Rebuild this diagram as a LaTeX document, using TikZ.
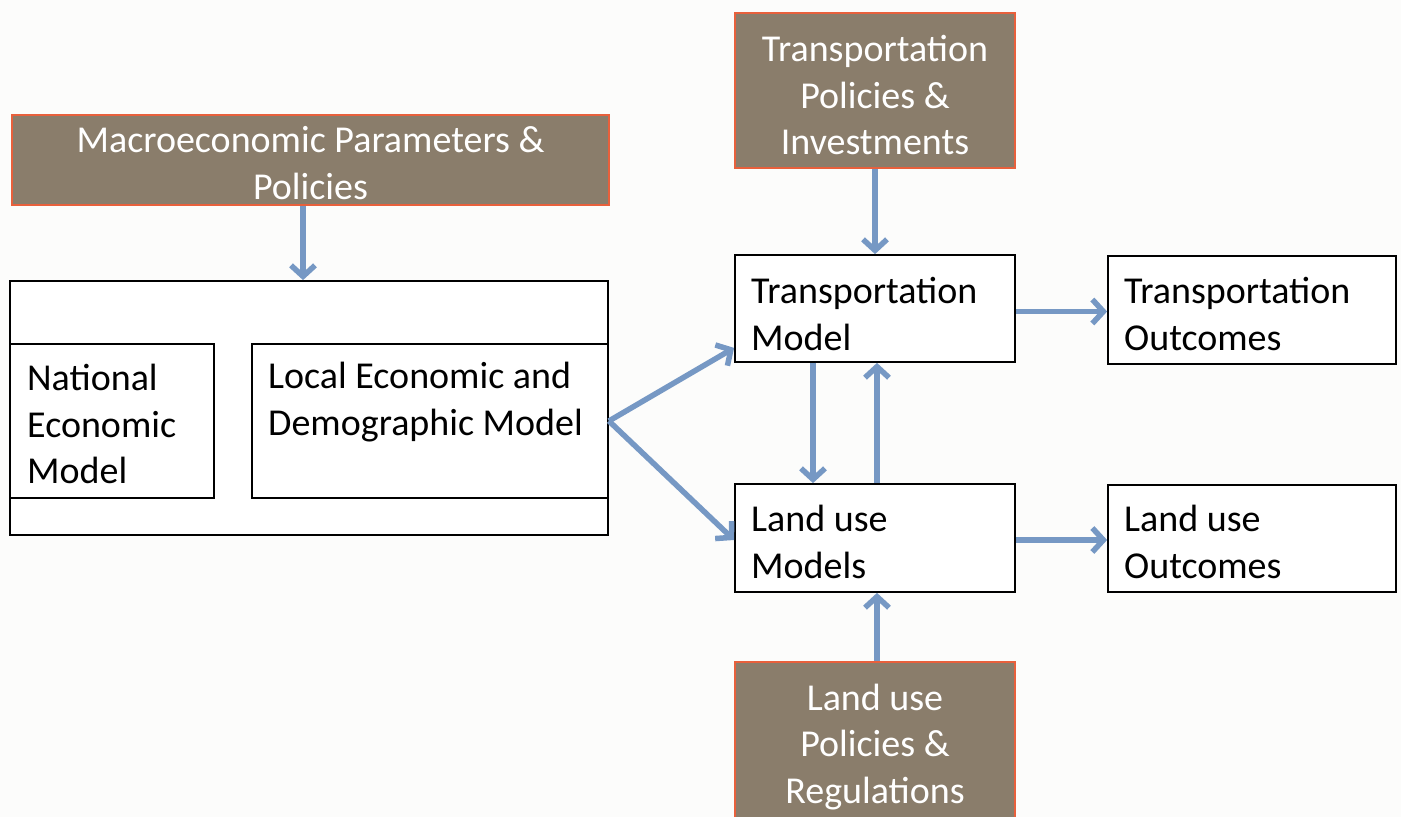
\documentclass[tikz,border=0pt]{standalone}
\usepackage{fontspec}
\setmainfont{Carlito}
\usetikzlibrary{arrows.meta}
\definecolor{brownfill}{RGB}{138,125,107}
\definecolor{redline}{RGB}{232,96,60}
\definecolor{arrowblue}{RGB}{118,152,196}
\definecolor{bgcol}{RGB}{252,252,251}
\begin{document}
\begin{tikzpicture}[x=1pt,y=-1pt,
 every node/.style={font=\fontsize{38}{46.5}\selectfont},
 policy/.style={draw=redline, line width=2.5pt, fill=brownfill, inner sep=0pt},
 ptext/.style={align=center, inner sep=0pt, text=white},
 model/.style={draw=black, line width=1.8pt, fill=white, inner sep=0pt},
 lbl/.style={align=left, inner sep=0pt, anchor=west, text=black},
 flow/.style={draw=arrowblue, line width=5.5pt, -{Straight Barb[length=11pt,width=24pt]}}
]
\fill[bgcol] (0,0) rectangle (1401,817);
\useasboundingbox (0,0) rectangle (1401,817);
\clip (0,0) rectangle (1401,817);

% policy boxes
\node[policy, minimum width=597pt, minimum height=90pt] (macro) at (310.5,160) {};
\node[policy, minimum width=280pt, minimum height=155pt] (tp) at (875,90.5) {};
\node[policy, minimum width=280pt, minimum height=170pt] (lp) at (875,747) {};
\node[ptext] (tmacro) at (310.5,163) {Macroeconomic Parameters \&\\Policies};
\node[ptext] (ttp) at (875,95) {Transportation\\Policies \&\\Investments};
\node[ptext] (tlp) at (875,747) {Land use\\Policies \&\\Regulations};

% model boxes
\node[model, minimum width=598pt, minimum height=254pt] (outer) at (309,408) {};
\node[model, minimum width=204pt, minimum height=154pt] (national) at (112,421) {};
\node[model, minimum width=356pt, minimum height=154pt] (local) at (430,421) {};
\node[model, minimum width=280pt, minimum height=107pt] (tm) at (875,308.5) {};
\node[model, minimum width=280pt, minimum height=108pt] (lm) at (875,538) {};
\node[model, minimum width=288pt, minimum height=108pt] (to) at (1252,310) {};
\node[model, minimum width=288pt, minimum height=107pt] (lo) at (1252,538.5) {};

% labels
\node[lbl] (tnational) at (27,424) {National\\Economic\\Model};
\node[lbl] (tlocal) at (268,402) {Local Economic and\\Demographic Model};
\node[lbl] (ttm) at (751,314) {Transportation\\Model};
\node[lbl] (tlm) at (751,542) {Land use\\Models};
\node[lbl] (tto) at (1124,314) {Transportation\\Outcomes};
\node[lbl] (tlo) at (1124,542) {Land use\\Outcomes};

% connectors
\coordinate (split) at (local.east);
\draw[flow] ([xshift=-7.5pt]macro.south) -- ([xshift=-6pt]outer.north);
\draw[flow] (tp.south) -- (tm.north);
\draw[flow] (split) -- ([yshift=15pt]tm.south west);
\draw[flow] (split) -- ([yshift=-2pt]lm.west);
\draw[flow] ([xshift=-62pt]tm.south) -- ([xshift=-62pt]lm.north);
\draw[flow] ([xshift=2pt]lm.north) -- ([xshift=2pt]tm.south);
\draw[flow] ([xshift=2pt]lp.north) -- ([xshift=2pt]lm.south);
\draw[flow] ([yshift=-3pt]tm.east) -- ([yshift=-3pt]tm.east -| to.west);
\draw[flow] ([yshift=-2pt]lm.east) -- ([yshift=-2pt]lm.east -| lo.west);
\end{tikzpicture}
\end{document}
